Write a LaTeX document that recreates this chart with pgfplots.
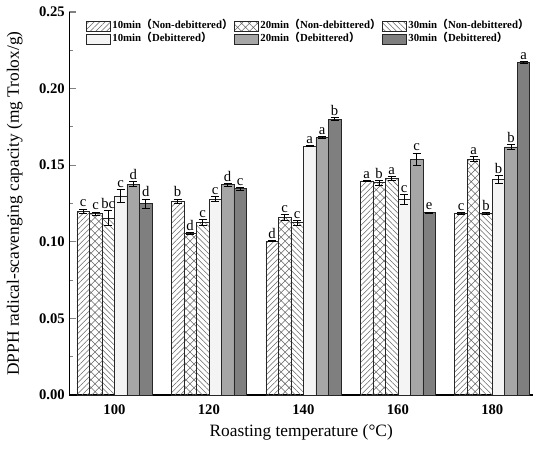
\documentclass[border=0pt]{standalone}
\usepackage{fontspec}
\setmainfont{Liberation Serif}
\newfontfamily\cjk{Noto Sans CJK SC}
\usepackage{pgfplots}
\pgfplotsset{compat=1.18}
\usepackage{pgfplotstable}
\usetikzlibrary{patterns.meta}

\definecolor{lightbar}{HTML}{F4F4F4}
\definecolor{midbar}{HTML}{A6A6A6}
\definecolor{darkbar}{HTML}{7F7F7F}

\pgfplotsset{barleg/.style={legend image code/.code={\draw[##1] (0pt,-3.9pt) rectangle (18pt,3.9pt);}}}

\pgfplotstableread{
x y err lab
0 0.1200 0.0015 c
1 0.1265 0.0015 b
2 0.1005 0.0005 d
3 0.1397 0.0005 a
4 0.1185 0.0005 c
}\tA
\pgfplotstableread{
x y err lab
0 0.1185 0.0010 c
1 0.1055 0.0007 d
2 0.1157 0.0020 c
3 0.1386 0.0015 b
4 0.1540 0.0015 a
}\tB
\pgfplotstableread{
x y err lab
0 0.1155 0.0050 bc
1 0.1125 0.0020 c
2 0.1125 0.0015 c
3 0.1414 0.0015 a
4 0.1185 0.0007 b
}\tC
\pgfplotstableread{
x y err lab
0 0.1300 0.0040 c
1 0.1280 0.0015 c
2 0.1625 0.0005 a
3 0.1277 0.0030 c
4 0.1408 0.0025 b
}\tD
\pgfplotstableread{
x y err lab
0 0.1377 0.0015 d
1 0.1373 0.0010 d
2 0.1680 0.0007 a
3 0.1540 0.0040 c
4 0.1619 0.0015 b
}\tE
\pgfplotstableread{
x y err lab
0 0.1250 0.0030 d
1 0.1347 0.0010 c
2 0.1800 0.0010 b
3 0.1190 0.0005 e
4 0.2170 0.0007 a
}\tF

\newcommand{\lp}{{\cjk\bfseries （}}
\newcommand{\rp}{{\cjk\bfseries ）}}

\begin{document}
\begin{tikzpicture}
\path[use as bounding box] (-52.1pt,-45pt) rectangle (360.4pt,296.25pt);
\begin{axis}[
  scale only axis,
  width=347.6pt, height=287.25pt,
  xmin=-0.476, xmax=4.43,
  ymin=0, ymax=0.25,
  ybar=0pt, bar width=0.1323,
  clip=false,
  axis x line*=bottom, axis y line*=left,
  axis line style={line width=1pt},
  tick align=inside,
  xtick={0,1,2,3,4},
  xticklabels={100,120,140,160,180},
  xtick style={draw=none},
  ytick={0,0.05,0.1,0.15,0.2,0.25},
  minor y tick num=1,
  ytick style={line width=0.8pt},
  major tick length=5pt, minor tick length=3pt,
  tick label style={font=\fontsize{11}{13}\selectfont\bfseries},
  yticklabel style={/pgf/number format/.cd, fixed, fixed zerofill, precision=2, assume math mode=true},
  xticklabel style={yshift=-4pt},
  ylabel={DPPH radical-scavenging capacity (mg Trolox/g)},
  ylabel style={at={(axis description cs:-0.118,0.5)}, anchor=center, font=\fontsize{13}{15}\selectfont},
  xlabel={Roasting temperature (°C)},
  xlabel style={at={(axis description cs:0.5,-0.0966)}, anchor=center, font=\fontsize{13}{15}\selectfont},
  legend columns=3,
  legend cell align=left,
  legend style={at={(axis description cs:0.036,0.978)}, anchor=north west, draw=none, fill=none,
    font=\fontsize{8.1}{9}\selectfont\bfseries, row sep=1pt, inner sep=0pt,
    nodes={inner xsep=1pt, inner ysep=0pt, text height=6.1pt, text depth=2.4pt},
    /tikz/every even column/.append style={column sep=0.2pt}},
  error bars/y dir=both, error bars/y explicit,
  error bars/error bar style={black, line width=0.5pt},
  error bars/error mark options={rotate=90, mark size=3pt, line width=0.5pt, black},
  nodes near coords,
  point meta=explicit symbolic,
  visualization depends on={\thisrow{err} \as \myerr},
  every node near coord/.append style={font=\fontsize{11}{12}\selectfont, inner sep=1.2pt, anchor=south, yshift=\myerr*1149pt, black, text height=, text depth=},
]
\addplot[draw=black!85, line width=0.5pt, pattern={Lines[angle=45,distance=2.9pt,line width=0.4pt]}, pattern color=black!60, barleg]
  table[x=x, y=y, y error=err, meta=lab]{\tA};
\addlegendentry{10min\lp Non-debittered\rp}
\addplot[draw=black!85, line width=0.5pt, pattern={Hatch[angle=45,distance=4.2pt,line width=0.4pt]}, pattern color=black!60, barleg]
  table[x=x, y=y, y error=err, meta=lab]{\tB};
\addlegendentry{20min\lp Non-debittered\rp}
\addplot[draw=black!85, line width=0.5pt, pattern={Lines[angle=-45,distance=2.9pt,line width=0.4pt]}, pattern color=black!60, barleg]
  table[x=x, y=y, y error=err, meta=lab]{\tC};
\addlegendentry{30min\lp Non-debittered\rp}
\addplot[draw=black!85, line width=0.5pt, fill=lightbar, barleg]
  table[x=x, y=y, y error=err, meta=lab]{\tD};
\addlegendentry{10min\lp Debittered\rp}
\addplot[draw=black!85, line width=0.5pt, fill=midbar, barleg]
  table[x=x, y=y, y error=err, meta=lab]{\tE};
\addlegendentry{20min\lp Debittered\rp}
\addplot[draw=black!85, line width=0.5pt, fill=darkbar, barleg]
  table[x=x, y=y, y error=err, meta=lab]{\tF};
\addlegendentry{30min\lp Debittered\rp}
\end{axis}
\end{tikzpicture}
\end{document}
